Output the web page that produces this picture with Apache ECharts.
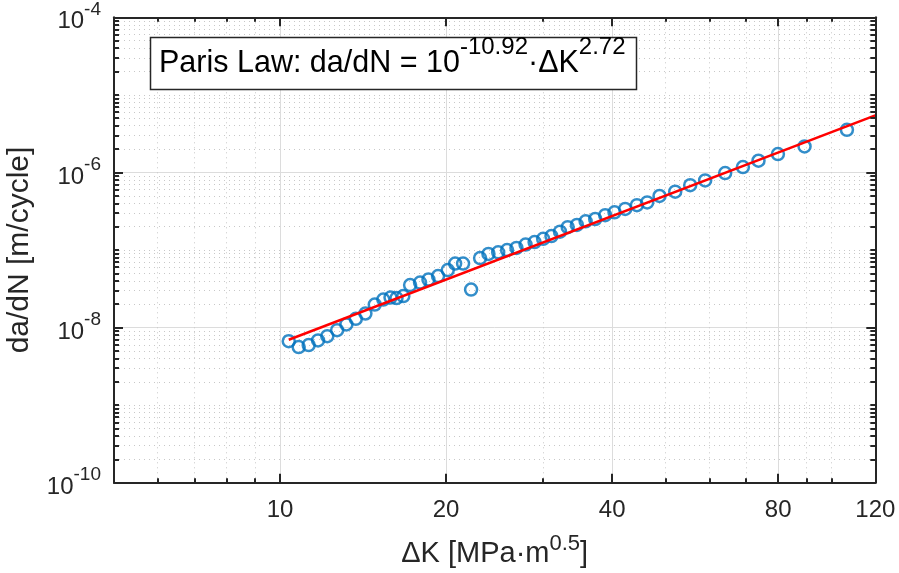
<!DOCTYPE html>
<html><head><meta charset="utf-8">
<script src="https://cdn.jsdelivr.net/npm/echarts@6/dist/echarts.min.js"></script>
<style>html,body{margin:0;padding:0;background:#fff}#c{width:899px;height:573px}</style>
</head><body><div id="c"></div>
<script>
// ---- data ----
const deltaK = [10.37, 10.81, 11.27, 11.72, 12.18, 12.69, 13.19, 13.72, 14.28, 14.85,
  15.39, 15.86, 16.26, 16.73, 17.21, 17.94, 18.58, 19.34, 20.14, 20.77,
  21.47, 22.20, 23.05, 23.87, 24.86, 25.80, 26.83, 27.87, 28.94, 29.99,
  31.05, 32.18, 33.23, 34.53, 35.81, 37.27, 38.86, 40.40, 42.24, 44.36,
  46.31, 48.75, 52.05, 55.41, 58.98, 64.12, 69.05, 73.69, 79.92, 89.31, 106.6];
const dadN = [6.68e-9, 5.60e-9, 5.94e-9, 6.82e-9, 7.75e-9, 9.26e-9, 1.096e-8, 1.298e-8, 1.518e-8, 1.98e-8,
  2.30e-8, 2.44e-8, 2.40e-8, 2.55e-8, 3.53e-8, 3.80e-8, 4.16e-8, 4.61e-8, 5.51e-8, 6.68e-8,
  6.68e-8, 3.09e-8, 7.87e-8, 8.91e-8, 9.34e-8, 9.97e-8, 1.064e-7, 1.174e-7, 1.264e-7, 1.393e-7,
  1.51e-7, 1.725e-7, 1.97e-7, 2.104e-7, 2.34e-7, 2.51e-7, 2.81e-7, 3.06e-7, 3.38e-7, 3.78e-7,
  4.11e-7, 4.97e-7, 5.64e-7, 6.84e-7, 7.89e-7, 9.82e-7, 1.174e-6, 1.415e-6, 1.725e-6, 2.16e-6, 3.54e-6];
const fitK = [10.37, 120];
const fitRate = [6.97e-9, 5.44e-6];
const xMajorTicks = [10, 20, 40, 80, 120];
const xMinorTicks = [6, 7, 8, 9, 30, 50, 60, 70, 90, 100];
const yMajorTicks = [1e-10, 1e-8, 1e-6, 1e-4];
const yMinorTicks = [];
for (let k = -10; k <= -5; k++) {
  for (let m = 1; m <= 9; m++) {
    if (m === 1 && k % 2 === 0) continue;
    yMinorTicks.push(Number((m + 'e' + k)));
  }
}
const titleText = '{b|Paris Law: da/dN = 10}{s|-10.92}{b|·ΔK}{s|2.72}';

// ---- chart ----
const FONT = '"Liberation Sans", Arial, Helvetica, sans-serif';
const AX = '#262626';
const X_MIN = 5, X_MAX = 120, Y_MIN = 1e-10, Y_MAX = 1e-4;

function axisBase(dim, pos) {
  return {
    type: 'log', logBase: 10, position: pos,
    min: dim === 'x' ? X_MIN : Y_MIN, max: dim === 'x' ? X_MAX : Y_MAX,
    axisLine: { show: false }, axisTick: { show: false },
    axisLabel: { show: false }, splitLine: { show: false }, z: 10
  };
}
function tickAxis(dim, pos, vals, len, line) {
  const a = axisBase(dim, pos);
  a.axisLine = { show: !!line, onZero: false, lineStyle: { color: AX, width: 2 } };
  a.axisTick = { show: true, inside: true, length: len, customValues: vals, lineStyle: { color: AX, width: 2 } };
  return a;
}
function gridAxis(dim, pos, vals, style) {
  const a = axisBase(dim, pos);
  a.z = 0;
  a.axisTick = { show: false, customValues: vals };
  a.splitLine = { show: true, lineStyle: style };
  return a;
}
const majorGrid = { color: '#dcdcdc', width: 1, type: 'solid' };
const minorGrid = { color: '#c8c8c8', width: 1, type: [1, 4] };

const xMain = tickAxis('x', 'bottom', xMajorTicks, 9, true);
xMain.axisLabel = {
  show: true, customValues: xMajorTicks, margin: 16,
  fontSize: 24, fontFamily: FONT, color: AX,
  formatter: v => String(Math.round(v))
};
xMain.name = '{b|ΔK [MPa·m}{s|0.5}{b|]}';
xMain.nameLocation = 'middle';
xMain.nameGap = 50;
xMain.nameTextStyle = {
  color: AX, fontFamily: FONT,
  rich: {
    b: { fontSize: 29, lineHeight: 42, fontFamily: FONT, color: AX },
    s: { fontSize: 22, lineHeight: 8, verticalAlign: 'top', fontFamily: FONT, color: AX }
  }
};

const yMain = tickAxis('y', 'left', yMajorTicks, 9, true);
yMain.axisLabel = {
  show: true, customValues: yMajorTicks, margin: 13, padding: [9, 0, 0, 0],
  fontFamily: FONT, color: AX,
  formatter: v => '{b|10}{s|' + Math.round(Math.log10(v)) + '}',
  rich: {
    b: { fontSize: 24, lineHeight: 44, fontFamily: FONT, color: AX },
    s: { fontSize: 19, lineHeight: 6, verticalAlign: 'top', fontFamily: FONT, color: AX }
  }
};
yMain.name = 'da/dN [m/cycle]';
yMain.nameLocation = 'middle';
yMain.nameGap = 79;
yMain.nameTextStyle = { fontSize: 30, lineHeight: 30, fontFamily: FONT, color: AX };

const option = {
  animation: false,
  backgroundColor: '#fff',
  grid: { left: 114, right: 23.7, top: 17.3, bottom: 90.3, containLabel: false, outerBoundsMode: 'none' },
  xAxis: [
    xMain,
    tickAxis('x', 'bottom', xMinorTicks, 4.5, false),
    tickAxis('x', 'top', xMajorTicks, 9, true),
    tickAxis('x', 'top', xMinorTicks, 4.5, false),
    gridAxis('x', 'bottom', xMajorTicks, majorGrid),
    gridAxis('x', 'bottom', xMinorTicks, minorGrid)
  ],
  yAxis: [
    yMain,
    tickAxis('y', 'left', yMinorTicks, 5, false),
    tickAxis('y', 'right', yMajorTicks, 9, true),
    tickAxis('y', 'right', yMinorTicks, 5, false),
    gridAxis('y', 'left', yMajorTicks, majorGrid),
    gridAxis('y', 'left', yMinorTicks, minorGrid)
  ],
  series: [
    {
      type: 'scatter', xAxisIndex: 0, yAxisIndex: 0, z: 3,
      symbol: 'circle', symbolSize: 12,
      itemStyle: { color: 'rgba(0,0,0,0)', borderColor: '#0072BD', borderWidth: 2.5 },
      emphasis: { disabled: true },
      data: deltaK.map((k, i) => [k, dadN[i]])
    },
    {
      type: 'line', xAxisIndex: 0, yAxisIndex: 0, z: 4,
      showSymbol: false, symbol: 'none',
      lineStyle: { color: '#ff0000', width: 2.5 },
      emphasis: { disabled: true },
      data: fitK.map((k, i) => [k, fitRate[i]])
    }
  ],
  graphic: [
    { type: 'rect', z: 100, shape: { x: 150.5, y: 37.5, width: 486, height: 52 },
      style: { fill: '#fff', stroke: AX, lineWidth: 1.5 } },
    { type: 'text', z: 101, x: 159, y: 64,
      style: {
        text: titleText, align: 'left', verticalAlign: 'middle',
        rich: {
          b: { fontSize: 30.5, lineHeight: 57, fontFamily: FONT, fill: '#000' },
          s: { fontSize: 24, lineHeight: 11, verticalAlign: 'top', fontFamily: FONT, fill: '#000' }
        }
      } }
  ]
};
const chart = echarts.init(document.getElementById('c'), null, { renderer: 'canvas' });
chart.setOption(option);
</script>
</body></html>
